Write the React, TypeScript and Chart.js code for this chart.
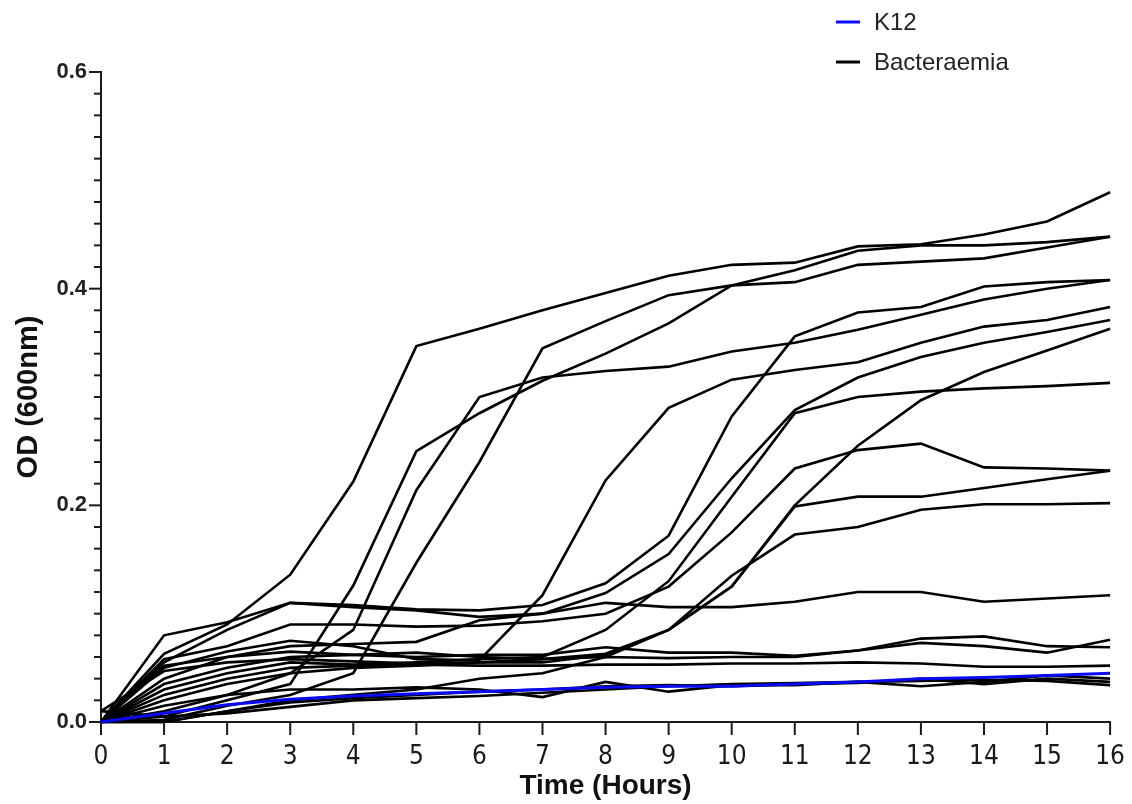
import React, { useEffect, useRef } from "react";
import { Chart, registerables } from "chart.js";

Chart.register(...registerables);

// ---------- data ----------
const hours = [0, 1, 2, 3, 4, 5, 6, 7, 8, 9, 10, 11, 12, 13, 14, 15, 16];
const yTickLabels = ["0.0", "0.2", "0.4", "0.6"];
const legendLabels = ["K12", "Bacteraemia"];

const k12 = [0.0, 0.008, 0.016, 0.021, 0.024, 0.026, 0.028, 0.03, 0.032, 0.033, 0.033, 0.035, 0.037, 0.04, 0.041, 0.043, 0.045];

const bactA = [0.0, 0.063, 0.09, 0.136, 0.222, 0.347, 0.363, 0.38, 0.396, 0.412, 0.422, 0.424, 0.439, 0.441, 0.45, 0.462, 0.489];
const bactB = [0.0, 0.002, 0.015, 0.025, 0.045, 0.147, 0.24, 0.345, 0.37, 0.394, 0.403, 0.406, 0.422, 0.425, 0.428, 0.438, 0.448];
const bactC = [0.0, 0.005, 0.02, 0.035, 0.126, 0.25, 0.285, 0.315, 0.34, 0.368, 0.403, 0.417, 0.435, 0.44, 0.44, 0.443, 0.448];
const bactD = [0.0, 0.01, 0.025, 0.045, 0.085, 0.214, 0.3, 0.318, 0.324, 0.328, 0.342, 0.35, 0.362, 0.376, 0.39, 0.4, 0.408];
const bactE = [0.0, 0.055, 0.085, 0.11, 0.108, 0.104, 0.103, 0.108, 0.128, 0.172, 0.282, 0.356, 0.378, 0.383, 0.402, 0.406, 0.408];
const bactF = [0.0, 0.08, 0.092, 0.11, 0.106, 0.103, 0.097, 0.1, 0.11, 0.106, 0.106, 0.111, 0.12, 0.12, 0.111, 0.114, 0.117];
const bactG = [0.0, 0.05, 0.065, 0.075, 0.07, 0.058, 0.057, 0.117, 0.223, 0.29, 0.316, 0.325, 0.332, 0.35, 0.365, 0.371, 0.383];
const bactH = [0.0, 0.04, 0.06, 0.07, 0.072, 0.074, 0.094, 0.1, 0.119, 0.155, 0.225, 0.288, 0.318, 0.337, 0.35, 0.36, 0.371];
const bactI = [0.0, 0.03, 0.045, 0.055, 0.053, 0.055, 0.058, 0.06, 0.085, 0.13, 0.208, 0.285, 0.3, 0.305, 0.308, 0.31, 0.313];
const bactJ = [0.0, 0.058, 0.07, 0.09, 0.09, 0.088, 0.089, 0.093, 0.1, 0.125, 0.175, 0.234, 0.251, 0.257, 0.235, 0.234, 0.232];
const bactK = [0.0, 0.02, 0.035, 0.045, 0.05, 0.052, 0.055, 0.055, 0.062, 0.085, 0.125, 0.199, 0.208, 0.208, 0.216, 0.224, 0.232];
const bactL = [0.0, 0.035, 0.05, 0.06, 0.062, 0.064, 0.06, 0.058, 0.063, 0.085, 0.135, 0.173, 0.18, 0.196, 0.201, 0.201, 0.202];
const bactM = [0.0, 0.0, 0.01, 0.02, 0.025, 0.03, 0.04, 0.045, 0.06, 0.085, 0.125, 0.2, 0.255, 0.297, 0.323, 0.343, 0.363];
const bactN = [0.0, 0.052, 0.06, 0.065, 0.062, 0.06, 0.062, 0.062, 0.069, 0.064, 0.064, 0.061, 0.066, 0.077, 0.079, 0.07, 0.069];
const bactO = [0.01, 0.047, 0.055, 0.058, 0.056, 0.054, 0.055, 0.058, 0.06, 0.059, 0.06, 0.06, 0.066, 0.073, 0.07, 0.064, 0.076];
const bactP = [0.0, 0.025, 0.04, 0.05, 0.052, 0.053, 0.052, 0.052, 0.053, 0.053, 0.054, 0.054, 0.055, 0.054, 0.051, 0.051, 0.052];
const bactQ = [0.0, 0.015, 0.025, 0.03, 0.03, 0.032, 0.03, 0.023, 0.037, 0.028, 0.034, 0.034, 0.037, 0.033, 0.037, 0.043, 0.04];
const bactR = [0.0, 0.0, 0.01, 0.018, 0.022, 0.025, 0.028, 0.03, 0.033, 0.034, 0.033, 0.035, 0.036, 0.04, 0.035, 0.04, 0.037];
const bactS = [0.01, 0.005, 0.008, 0.014, 0.02, 0.022, 0.024, 0.027, 0.03, 0.033, 0.035, 0.036, 0.037, 0.038, 0.039, 0.038, 0.034];

const bacteraemia = [bactA, bactB, bactC, bactD, bactE, bactF, bactG, bactH, bactI, bactJ, bactK, bactL, bactM, bactN, bactO, bactP, bactQ, bactR, bactS];

// ---------- styles ----------
const K12_COLOR = "#0a0af5";
const BACT_COLOR = "#000000";
const AXIS_COLOR = "#1a1a1a";
const SANS = '"Liberation Sans", Arial, Helvetica, sans-serif';
const NARROW = '"Liberation Sans Narrow", "Arial Narrow", "DejaVu Sans Condensed", sans-serif';

const isMajorY = (v: number) => Math.abs(v * 5 - Math.round(v * 5)) < 1e-6;

const axisTicksPlugin = {
  id: "axisTicks",
  afterDraw(chart: any) {
    const { ctx } = chart;
    const xs = chart.scales.x;
    const ys = chart.scales.y;
    ctx.save();
    ctx.strokeStyle = AXIS_COLOR;
    ctx.lineWidth = 2;
    ys.ticks.forEach((t: any) => {
      const py = ys.getPixelForValue(t.value);
      const len = isMajorY(t.value) ? 12 : 7;
      ctx.beginPath();
      ctx.moveTo(ys.right - len, py);
      ctx.lineTo(ys.right, py);
      ctx.stroke();
    });
    xs.ticks.forEach((t: any) => {
      const px = xs.getPixelForValue(t.value);
      ctx.beginPath();
      ctx.moveTo(px, xs.top);
      ctx.lineTo(px, xs.top + 13);
      ctx.stroke();
    });
    ctx.restore();
  },
};

const legendPlugin = {
  id: "customLegend",
  afterDraw(chart: any) {
    const { ctx } = chart;
    const items = [
      { label: legendLabels[0], color: K12_COLOR, y: 22 },
      { label: legendLabels[1], color: BACT_COLOR, y: 62 },
    ];
    ctx.save();
    ctx.font = `24px ${SANS}`;
    ctx.textBaseline = "middle";
    ctx.textAlign = "left";
    items.forEach((it) => {
      ctx.strokeStyle = it.color;
      ctx.lineWidth = 3;
      ctx.beginPath();
      ctx.moveTo(836, it.y);
      ctx.lineTo(860, it.y);
      ctx.stroke();
      ctx.fillStyle = "#222";
      ctx.fillText(it.label, 874, it.y + 1);
    });
    ctx.restore();
  },
};

export default function App() {
  const canvasRef = useRef<HTMLCanvasElement | null>(null);

  useEffect(() => {
    const canvas = canvasRef.current;
    if (!canvas) return;

    const toPoints = (arr: number[]) => arr.map((v, i) => ({ x: hours[i], y: v }));

    const datasets: any[] = [
      {
        label: legendLabels[0],
        data: toPoints(k12),
        borderColor: K12_COLOR,
        borderWidth: 3,
        clip: 6,
      },
      ...bacteraemia.map((s) => ({
        label: legendLabels[1],
        data: toPoints(s),
        borderColor: BACT_COLOR,
        borderWidth: 2.6,
        clip: 6,
      })),
    ];

    const chart = new Chart(canvas, {
      type: "line",
      data: { datasets },
      options: {
        responsive: false,
        animation: false,
        layout: { padding: { left: 0, right: 18, top: 72, bottom: 0 } },
        plugins: { legend: { display: false }, tooltip: { enabled: false } },
        elements: { point: { radius: 0 }, line: { tension: 0, fill: false } },
        scales: {
          x: {
            type: "linear",
            min: 0,
            max: 16,
            ticks: {
              stepSize: 1,
              autoSkip: false,
              maxRotation: 0,
              color: "#1a1a1a",
              padding: 7,
              font: { family: NARROW, size: 26 },
            },
            grid: { drawOnChartArea: false, drawTicks: true, tickLength: 13, tickColor: "rgba(0,0,0,0)" },
            border: { display: true, color: AXIS_COLOR, width: 2 },
            title: {
              display: true,
              text: "Time (Hours)",
              color: "#111",
              font: { family: SANS, size: 28, weight: "bold" },
              padding: { top: 0, bottom: 1 },
            },
            afterFit: (s: any) => {
              s.height = 82;
            },
          },
          y: {
            type: "linear",
            min: 0,
            max: 0.6,
            ticks: {
              stepSize: 0.02,
              autoSkip: false,
              color: "#222",
              padding: 2,
              font: { family: SANS, size: 22, weight: "bold" },
              callback: (v: any) => {
                const n = Number(v);
                return isMajorY(n) ? yTickLabels[Math.round(n * 5)] : "";
              },
            },
            grid: { drawOnChartArea: false, drawTicks: true, tickLength: 12, tickColor: "rgba(0,0,0,0)" },
            border: { display: true, color: AXIS_COLOR, width: 2 },
            title: {
              display: true,
              text: "OD (600nm)",
              color: "#111",
              font: { family: SANS, size: 29, weight: "bold" },
              padding: { top: 12, bottom: 0 },
            },
            afterFit: (s: any) => {
              s.width = 101;
            },
          },
        },
      },
      plugins: [axisTicksPlugin, legendPlugin],
    });

    return () => chart.destroy();
  }, []);

  return (
    <div style={{ position: "fixed", left: 0, top: 0, width: 1132, height: 804, background: "#fff" }}>
      <canvas ref={canvasRef} width={1132} height={804} />
    </div>
  );
}
